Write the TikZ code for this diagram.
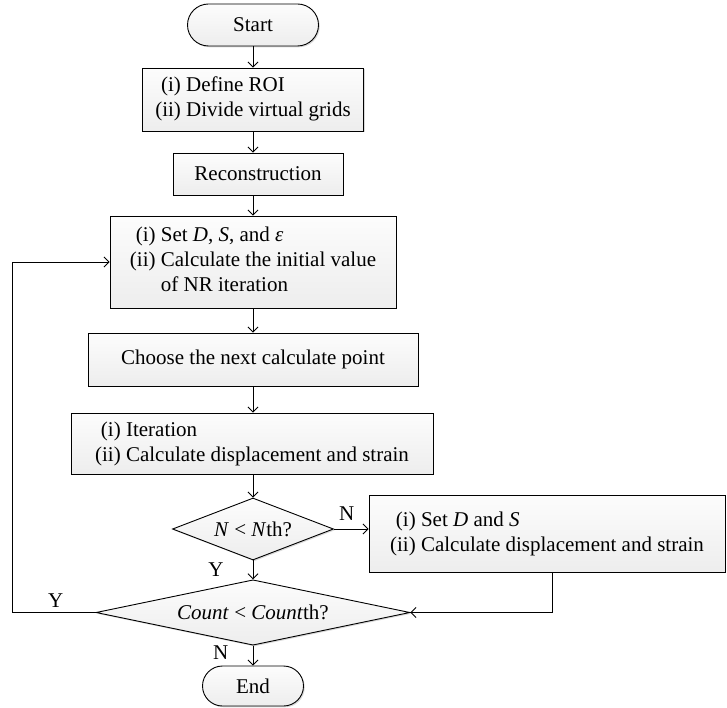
\documentclass[tikz,border=0pt]{standalone}
\usepackage{fontspec}
\setmainfont{Liberation Serif}
\usetikzlibrary{shapes.geometric,shapes.misc,arrows.meta,shadows}
\begin{document}
\begin{tikzpicture}[x=1pt,y=-1pt,
  font=\fontsize{21}{25}\selectfont,
  every node/.style={inner sep=0pt},
  boxfill/.style={draw=black, line width=0.9pt, top color=gray!2, bottom color=gray!14,
    drop shadow={shadow xshift=1.3pt,shadow yshift=-1.3pt,opacity=0.3}},
  procbox/.style={boxfill, rectangle},
  termbox/.style={boxfill, rounded rectangle},
  decbox/.style={boxfill, diamond, aspect=3},
  conn/.style={line width=0.9pt, -{Straight Barb[length=5pt,width=10pt]}},
  lbl/.style={inner sep=0pt}
]
\useasboundingbox (0,0) rectangle (727,708);

\node[termbox, minimum width=131pt, minimum height=42pt] (start) at (253,25) {Start};
\node[procbox, minimum width=221pt, minimum height=63pt] (roi) at (253,99.5)
  {\begin{tabular}{@{}r@{ }l@{}}(i)&Define ROI\\(ii)&Divide virtual grids\end{tabular}};
\node[procbox, minimum width=170pt, minimum height=42pt] (rec) at (258,174) {Reconstruction};
\node[procbox, minimum width=286pt, minimum height=92pt] (set) at (253,262)
  {\begin{tabular}{@{}r@{ }l@{}}(i)&Set \textit{D}, \textit{S}, and \textit{ε}\\(ii)&Calculate the initial value\\&of NR iteration\end{tabular}};
\node[procbox, minimum width=330pt, minimum height=53pt] (choose) at (253,359.5) {Choose the next calculate point};
\node[procbox, minimum width=362pt, minimum height=61pt] (iter) at (252,443.5)
  {\begin{tabular}{@{}r@{ }l@{}}(i)&Iteration\\(ii)&Calculate displacement and strain\end{tabular}};
\node[decbox, minimum width=161pt, minimum height=62pt] (dn) at (253,529) {\textit{N} < \textit{N}th?};
\node[procbox, minimum width=356pt, minimum height=77pt] (setds) at (547,533.5)
  {\begin{tabular}{@{}r@{ }l@{}}(i)&Set \textit{D} and \textit{S}\\(ii)&Calculate displacement and strain\end{tabular}};
\node[decbox, minimum width=314pt, minimum height=63pt] (dc) at (253,612.5) {\textit{Count} < \textit{Count}th?};
\node[termbox, minimum width=101pt, minimum height=40pt] (end) at (253,686) {End};

\node[lbl] (ln1) at (346.7,514) {N};
\node[lbl] (ly1) at (216,570) {Y};
\node[lbl] (ly2) at (55.7,600.7) {Y};
\node[lbl] (ln2) at (220.7,652.7) {N};

\coordinate (lp) at (12.3,612.5);
\coordinate (rp) at (552.7,612.5);

\draw[conn] (start.south) -- (roi.north);
\draw[conn] (roi.south) -- (roi.south |- rec.north);
\draw[conn] (rec.south -| set.north) -- (set.north);
\draw[conn] (set.south) -- (choose.north);
\draw[conn] (choose.south) -- (choose.south |- iter.north);
\draw[conn] (iter.south -| dn.north) -- (dn.north);
\draw[conn] (dn.east) -- (setds.west |- dn.east);
\draw[conn] (dn.south) -- (dc.north);
\draw[conn] (dc.south) -- (end.north);
\draw[conn] (dc.west) -- (lp) |- (set.west);
\draw[conn] (setds.south -| rp) -- (rp) -- (dc.east);
\end{tikzpicture}
\end{document}
